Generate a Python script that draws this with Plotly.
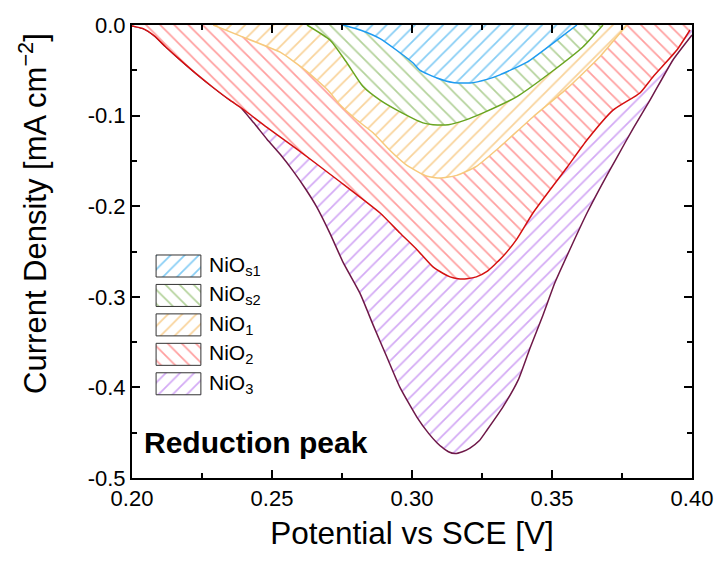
import plotly.graph_objects as go

# ---------------- data ----------------
x_nio3 = [0.200, 0.204, 0.208, 0.212, 0.217, 0.223, 0.229, 0.235, 0.2386, 0.2435, 0.2482, 0.2530,
          0.2575, 0.2620, 0.2660, 0.2707, 0.2754, 0.2814, 0.2861, 0.2911, 0.2957, 0.3018, 0.3060,
          0.3089, 0.3107, 0.3130, 0.3154, 0.3180, 0.3207, 0.3240, 0.3268, 0.3325, 0.3379, 0.3421,
          0.3468, 0.3511, 0.3568, 0.3625, 0.3680, 0.3732, 0.3790, 0.3850, 0.3932, 0.4000]
y_nio3 = [-0.001, -0.004, -0.012, -0.024, -0.038, -0.054, -0.069, -0.083, -0.0905, -0.108, -0.126, -0.143,
          -0.161, -0.181, -0.201, -0.230, -0.262, -0.296, -0.331, -0.367, -0.400, -0.433, -0.451,
          -0.461, -0.466, -0.471, -0.473, -0.471, -0.467, -0.459, -0.447, -0.4215, -0.392, -0.357,
          -0.320, -0.284, -0.245, -0.2075, -0.175, -0.146, -0.114, -0.083, -0.0386, -0.011]

x_nio2 = [0.200, 0.204, 0.208, 0.212, 0.217, 0.223, 0.229, 0.235, 0.2386, 0.2482, 0.2589, 0.2743,
          0.2886, 0.2957, 0.3018, 0.3075, 0.3110, 0.3136, 0.3165, 0.3196, 0.3230, 0.3268, 0.3320,
          0.3375, 0.3432, 0.3554, 0.3625, 0.3718, 0.3814, 0.3861, 0.3946, 0.3993]
y_nio2 = [-0.001, -0.004, -0.012, -0.024, -0.038, -0.054, -0.069, -0.083, -0.0905, -0.113, -0.137, -0.173,
          -0.2075, -0.2296, -0.248, -0.267, -0.274, -0.278, -0.280, -0.280, -0.278, -0.272, -0.257,
          -0.236, -0.2075, -0.157, -0.127, -0.094, -0.075, -0.057, -0.0276, -0.0055]

x_nio1 = [0.2290, 0.2386, 0.2529, 0.2620, 0.2700, 0.2743, 0.2800, 0.2861, 0.2920, 0.2982, 0.3054,
          0.3100, 0.3160, 0.3230, 0.3314, 0.3432, 0.3554, 0.3671, 0.3732, 0.3768]
y_nio1 = [0.0, -0.012, -0.030, -0.050, -0.072, -0.088, -0.104, -0.119, -0.138, -0.155, -0.167,
          -0.169, -0.166, -0.156, -0.1345, -0.1015, -0.070, -0.035, -0.013, 0.0]

x_nios2 = [0.2625, 0.2707, 0.2768, 0.2825, 0.2886, 0.2946, 0.3039, 0.3075, 0.3130, 0.3190, 0.3254,
           0.3375, 0.3493, 0.3611, 0.3682]
y_nios2 = [0.0, -0.0166, -0.042, -0.068, -0.083, -0.094, -0.108, -0.110, -0.110, -0.105, -0.097,
           -0.079, -0.053, -0.024, 0.0]

x_nios1 = [0.2754, 0.2820, 0.2886, 0.2950, 0.3004, 0.3029, 0.3089, 0.3146, 0.3207, 0.3268, 0.3314,
           0.3411, 0.3504, 0.3589]
y_nios1 = [0.0, -0.006, -0.015, -0.029, -0.042, -0.050, -0.0585, -0.0635, -0.064, -0.060, -0.055,
           -0.041, -0.020, 0.0]

series_names = ["NiO<sub>s1</sub>", "NiO<sub>s2</sub>", "NiO<sub>1</sub>", "NiO<sub>2</sub>", "NiO<sub>3</sub>"]
x_ticks = [0.20, 0.25, 0.30, 0.35, 0.40]
x_ticklabels = ["0.20", "0.25", "0.30", "0.35", "0.40"]
y_ticks = [0.0, -0.1, -0.2, -0.3, -0.4, -0.5]
y_ticklabels = ["0.0", "-0.1", "-0.2", "-0.3", "-0.4", "-0.5"]

# ---------------- styles ----------------
line_colors = {"s1": "#1E9BF0", "s2": "#6AA521", "1": "#F7C97C", "2": "#D41010", "3": "#6E1848"}
hatch_colors = {"s1": "#86CDF5", "s2": "#B3D29A", "1": "#F9D39A", "2": "#FF9E9E", "3": "#D3A9F5"}
shapes = {"s1": "/", "s2": "\\", "1": "/", "2": "\\", "3": "/"}

FONT = "Liberation Sans, Arial, sans-serif"

fig = go.Figure()

order = [("3", x_nio3, y_nio3), ("2", x_nio2, y_nio2), ("1", x_nio1, y_nio1),
         ("s2", x_nios2, y_nios2), ("s1", x_nios1, y_nios1)]
for key, xs, ys in order:
    fig.add_trace(go.Scatter(
        x=xs, y=ys, mode="lines", fill="tozeroy",
        line=dict(color=line_colors[key], width=1.5, shape="spline", smoothing=0.5),
        fillpattern=dict(shape=shapes[key], fgcolor=hatch_colors[key], bgcolor="white",
                         size=10, solidity=0.17, fillmode="replace"),
        showlegend=False, hoverinfo="skip"))

# ---------------- custom legend (overlay axes in fractional units) ----------------
leg_keys = ["s1", "s2", "1", "2", "3"]
bx0, bx1 = 0.043, 0.123
top0, bh, step = 0.4923, 0.0486, 0.0650
for i, key in enumerate(leg_keys):
    yt = top0 - i * step
    yb = yt - bh
    fig.add_trace(go.Scatter(
        x=[bx0, bx1, bx1, bx0, bx0], y=[yb, yb, yt, yt, yb],
        xaxis="x2", yaxis="y2", mode="lines", fill="toself",
        line=dict(color="#333333", width=1),
        fillpattern=dict(shape=shapes[key], fgcolor=hatch_colors[key], bgcolor="white",
                         size=10, solidity=0.17, fillmode="replace"),
        showlegend=False, hoverinfo="skip"))
    fig.add_annotation(x=0.134, y=(yt + yb) / 2, xref="x2", yref="y2", text=series_names[i],
                       showarrow=False, xanchor="left", yanchor="middle",
                       font=dict(family=FONT, size=21, color="black"))

fig.add_annotation(x=0.018, y=0.079, xref="paper", yref="paper", text="<b>Reduction peak</b>",
                   showarrow=False, xanchor="left", yanchor="middle",
                   font=dict(family=FONT, size=30, color="black"))

# y-axis title (placed as annotation to match the reference's vertical offset)
fig.add_annotation(x=-0.177, y=0.585, xref="paper", yref="paper",
                   text="Current Density [mA cm<sup>−2</sup>]", textangle=-90,
                   showarrow=False, xanchor="center", yanchor="middle",
                   font=dict(family=FONT, size=31, color="black"))

axis_common = dict(showline=True, linecolor="black", linewidth=2, mirror="ticks",
                   ticks="inside", ticklen=8, tickwidth=2, tickcolor="black",
                   showgrid=False, zeroline=False, automargin=False,
                   tickfont=dict(family=FONT, size=22, color="black"))

# page body has an 8px margin, so the figure is sized/offset to compensate
fig.update_layout(
    width=714, height=563,
    margin=dict(l=124, r=30, t=17, b=93),
    paper_bgcolor="white", plot_bgcolor="white",
    font=dict(family=FONT, color="black"),
    xaxis=dict(range=[0.2, 0.4], tickvals=x_ticks, ticktext=x_ticklabels,
               minor=dict(ticks="inside", ticklen=5, tickwidth=1.5, tickcolor="black", dtick=0.025),
               title=dict(text="Potential vs SCE [V]", font=dict(family=FONT, size=31.5), standoff=12),
               **axis_common),
    yaxis=dict(range=[-0.5, 0.0], tickvals=y_ticks, ticktext=y_ticklabels,
               minor=dict(ticks="inside", ticklen=5, tickwidth=1.5, tickcolor="black", dtick=0.05),
               **axis_common),
    xaxis2=dict(range=[0, 1], overlaying="x", visible=False, fixedrange=True),
    yaxis2=dict(range=[0, 1], overlaying="y", visible=False, fixedrange=True),
)

fig.write_html("out.html")
